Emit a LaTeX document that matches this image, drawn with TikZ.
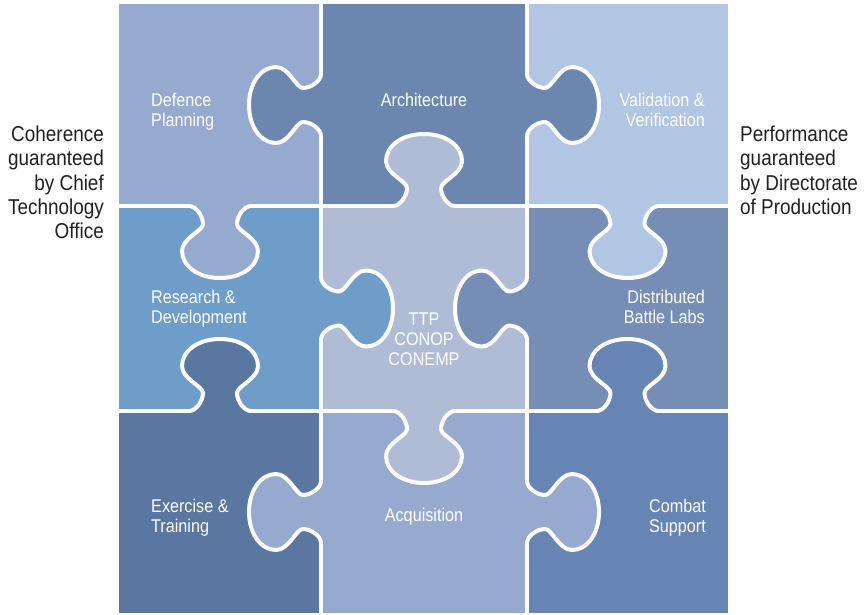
\documentclass[tikz,border=0pt]{standalone}
\usepackage{fontspec}
\setmainfont{Liberation Sans}[FakeStretch=0.88]
\definecolor{cDef}{HTML}{96A9CE}
\definecolor{cArch}{HTML}{6B87B0}
\definecolor{cVal}{HTML}{B1C6E3}
\definecolor{cRD}{HTML}{6E9DCA}
\definecolor{cTTP}{HTML}{B0BCD6}
\definecolor{cDBL}{HTML}{768DB6}
\definecolor{cEx}{HTML}{5A77A2}
\definecolor{cAcq}{HTML}{96A9CE}
\definecolor{cCom}{HTML}{6685B5}
\definecolor{cTxt}{HTML}{231F20}
\newcommand{\lblfont}{\fontsize{18.4}{20}\selectfont}
\newcommand{\sidefont}{\fontsize{21.5}{24.2}\selectfont}
\tikzset{
  cut/.style={draw=white, line width=4pt, line cap=round, line join=round},
  lbl/.style={text=white, inner sep=0pt, font=\lblfont},
  side/.style={text=cTxt, inner sep=0pt, font=\sidefont},
  ptab/.pic={
    \fill[#1] (-31,-3) -- (-31,0) .. controls (-24,0) and (-17,10) .. (-17,18)
      .. controls (-17,25) and (-38,32) .. (-38,45)
      .. controls (-38,60) and (-22,72) .. (0,72)
      .. controls (22,72) and (38,60) .. (38,45)
      .. controls (38,32) and (17,25) .. (17,18)
      .. controls (17,10) and (24,0) .. (31,0) -- (31,-3) -- cycle;
    \draw[cut] (-31,0) .. controls (-24,0) and (-17,10) .. (-17,18)
      .. controls (-17,25) and (-38,32) .. (-38,45)
      .. controls (-38,60) and (-22,72) .. (0,72)
      .. controls (22,72) and (38,60) .. (38,45)
      .. controls (38,32) and (17,25) .. (17,18)
      .. controls (17,10) and (24,0) .. (31,0);
  }
}
\begin{document}
\begin{tikzpicture}[x=1pt,y=-1pt]
\useasboundingbox (0,0) rectangle (864,614);
% cells
\fill[cDef]  (119,4)   rectangle (321,206);
\fill[cArch] (321,4)   rectangle (527,206);
\fill[cVal]  (527,4)   rectangle (728,206);
\fill[cRD]   (119,206) rectangle (321,411);
\fill[cTTP]  (321,206) rectangle (527,411);
\fill[cDBL]  (527,206) rectangle (728,411);
\fill[cEx]   (119,411) rectangle (321,613);
\fill[cAcq]  (321,411) rectangle (527,613);
\fill[cCom]  (527,411) rectangle (728,613);
% grid cuts
\coordinate (v1t) at (321,4);   \coordinate (v1b) at (321,613);
\coordinate (v2t) at (527,4);   \coordinate (v2b) at (527,613);
\coordinate (h1l) at (119,206); \coordinate (h1r) at (728,206);
\coordinate (h2l) at (119,411); \coordinate (h2r) at (728,411);
\draw[cut] (v1t) -- (v1b);
\draw[cut] (v2t) -- (v2b);
\draw[cut] (h1l) -- (h1r);
\draw[cut] (h2l) -- (h2r);
% tabs
\pic[rotate=0]   at (220,206)   {ptab=cDef};
\pic[rotate=-90] at (321,105)   {ptab=cArch};
\pic[rotate=90]  at (527,105)   {ptab=cArch};
\pic[rotate=180] at (424,206)   {ptab=cTTP};
\pic[rotate=0]   at (627.5,206) {ptab=cVal};
\pic[rotate=90]  at (321,308.5) {ptab=cRD};
\pic[rotate=-90] at (527,308.5) {ptab=cDBL};
\pic[rotate=180] at (220,411)   {ptab=cEx};
\pic[rotate=180] at (627.5,411) {ptab=cCom};
\pic[rotate=0]   at (424,411)   {ptab=cTTP};
\pic[rotate=-90] at (321,512)   {ptab=cAcq};
\pic[rotate=90]  at (527,512)   {ptab=cAcq};
% labels
\node[lbl, anchor=north west, align=left]  (def)  at (151,93)  {Defence\\Planning};
\node[lbl, anchor=north, align=center]     (arch) at (424,93)  {Architecture};
\node[lbl, anchor=north east, align=right] (val)  at (705,93)  {Validation \&\\Verification};
\node[lbl, anchor=north west, align=left]  (rd)   at (151,290) {Research \&\\Development};
\node[lbl, anchor=north, align=center]     (ttp)  at (424,313) {TTP\\CONOP\\CONEMP};
\node[lbl, anchor=north east, align=right] (dbl)  at (705,290) {Distributed\\Battle Labs};
\node[lbl, anchor=north west, align=left]  (ex)   at (151,499) {Exercise \&\\Training};
\node[lbl, anchor=north, align=center]     (acq)  at (424,508) {Acquisition};
\node[lbl, anchor=north east, align=right] (com)  at (706,499) {Combat\\Support};
\node[side, anchor=north east, align=right] (coh) at (104,126) {Coherence\\guaranteed\\by Chief\\Technology\\Office};
\node[side, anchor=north west, align=left]  (perf) at (740,126) {Performance\\guaranteed\\by Directorate\\of Production};
\end{tikzpicture}
\end{document}
